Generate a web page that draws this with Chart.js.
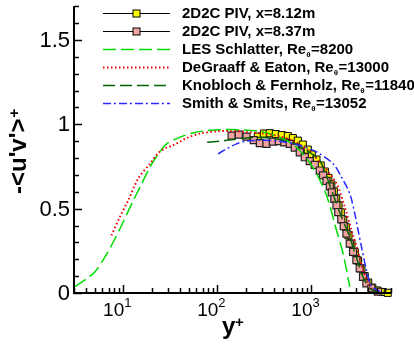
<!DOCTYPE html>
<html lang="en">
<head>
    <meta charset="UTF-8">
    <title>Reynolds shear stress profile</title>
    <script src="https://cdn.jsdelivr.net/npm/chart.js@4.4.0/dist/chart.umd.min.js"></script>
    <style>
        html, body { margin: 0; padding: 0; background: #fff; }
        #chartCanvas { display: block; }
    </style>
</head>
<body>
<canvas id="chartCanvas" width="414" height="350"></canvas>

<script>
    // ---- data ----
    // 2D2C PIV, x=8.12m (yellow squares)
    const piv812_x = [269, 312, 361, 418, 484, 561, 634, 716, 809, 914, 1007, 1130, 1256, 1387, 1510, 1625, 1727, 1835,
        1937, 2048, 2178, 2313, 2472, 2660, 2885, 3130, 3395, 3680, 4010, 4425, 5000, 5720, 6460];
    const piv812_y = [0.927, 0.945, 0.947, 0.942, 0.936, 0.930, 0.918, 0.903, 0.880, 0.850, 0.821, 0.791, 0.756, 0.720,
        0.682, 0.643, 0.602, 0.561, 0.519, 0.478, 0.434, 0.390, 0.342, 0.292, 0.242, 0.192, 0.145, 0.100, 0.062, 0.032,
        0.015, 0.006, 0.001];

    // 2D2C PIV, x=8.37m (pink squares)
    const piv837_x = [142, 169, 204, 244, 283, 333, 389, 450, 515, 589, 665, 752, 850, 960, 1085, 1226, 1330, 1445, 1567,
        1645, 1750, 1845, 1928, 2075, 2205, 2355, 2553, 2767, 3005, 3260, 3535, 3835, 4335, 5095];
    const piv837_y = [0.933, 0.939, 0.927, 0.906, 0.888, 0.884, 0.897, 0.900, 0.893, 0.884, 0.862, 0.834, 0.805, 0.782,
        0.759, 0.726, 0.697, 0.664, 0.632, 0.596, 0.558, 0.519, 0.480, 0.437, 0.396, 0.352, 0.293, 0.244, 0.195, 0.146,
        0.096, 0.057, 0.028, 0.008];

    // LES Schlatter, Re_theta=8200
    const les_x = [3.07, 4.1, 5.0, 6.4, 8.2, 10, 12.8, 15.1, 19.2, 23.6, 28.9, 40, 55, 77, 110, 160, 282, 461, 693, 1033,
        1445, 1845, 2168, 2553];
    const les_y = [0.037, 0.086, 0.125, 0.214, 0.323, 0.421, 0.549, 0.628, 0.746, 0.825, 0.884, 0.923, 0.949, 0.962,
        0.968, 0.968, 0.958, 0.923, 0.864, 0.746, 0.578, 0.372, 0.234, 0.037];

    // DeGraaff & Eaton, Re_theta=13000
    const dge_x = [7.5, 9.2, 11.3, 14.4, 19.2, 23.6, 28, 34, 41, 47, 65, 98, 140, 200, 300, 450, 650, 950, 1320, 1845,
        2260, 2660, 3130, 3680, 4330, 5000];
    const dge_y = [0.342, 0.45, 0.549, 0.677, 0.766, 0.83, 0.858, 0.876, 0.9, 0.918, 0.945, 0.958, 0.96, 0.955, 0.945,
        0.93, 0.9, 0.84, 0.756, 0.648, 0.509, 0.372, 0.244, 0.106, 0.028, 0.005];

    // Knobloch & Fernholz, Re_theta=11840
    const kf_x = [78, 106, 150, 220, 330, 500, 700, 950, 1225, 1430, 1630, 2085, 2550, 3000, 3500, 4000, 4500, 5200];
    const kf_y = [0.893, 0.9, 0.91, 0.92, 0.92, 0.905, 0.88, 0.835, 0.785, 0.7, 0.612, 0.45, 0.332, 0.21, 0.1, 0.04,
        0.015, 0.003];

    // Smith & Smits, Re_theta=13052
    const ss_x = [102, 125, 160, 200, 300, 450, 700, 1000, 1225, 1700, 2085, 2553, 2885, 3130, 3400, 3840, 4330, 5310];
    const ss_y = [0.825, 0.854, 0.884, 0.9, 0.905, 0.9, 0.88, 0.85, 0.825, 0.766, 0.687, 0.589, 0.47, 0.372, 0.273,
        0.136, 0.037, 0.008];

    // ---- axes ----
    const xMin = 3, xMax = 7000;
    const yMin = 0, yMax = 1.7;
    const yTickValues = [0, 0.5, 1, 1.5];
    const yTickLabels = ['0', '0.5', '1', '1.5'];
    const yMinorStep = 0.1;
    const xTickValues = [10, 100, 1000];
    const xTickExponents = ['1', '2', '3'];
    const xDecades = [1, 10, 100, 1000];

    // legend text split as [before subscript, subscript, after subscript]
    const legendText = [
        ['2D2C PIV, x=8.12m', '', ''],
        ['2D2C PIV, x=8.37m', '', ''],
        ['LES Schlatter, Re', 'θ', '=8200'],
        ['DeGraaff & Eaton, Re', 'θ', '=13000'],
        ['Knobloch & Fernholz, Re', 'θ', '=11840'],
        ['Smith & Smits, Re', 'θ', '=13052']
    ];

    function pts(xs, ys) {
        return xs.map((v, i) => ({x: v, y: ys[i]}));
    }

    // axis lines, inward ticks, labels, titles and the legend box
    const frame = {
        id: 'frame',
        afterDraw(chart) {
            const {ctx, chartArea: a, scales: {x, y}} = chart;
            ctx.save();
            ctx.strokeStyle = '#000';
            ctx.fillStyle = '#000';

            // ticks
            ctx.lineWidth = 1.5;
            ctx.beginPath();
            for (let v = yMin; v <= yMax + 1e-9; v += yMinorStep) {
                const r = Math.round(v * 10) / 10;
                const py = Math.round(y.getPixelForValue(r)) + 0.5;
                const len = yTickValues.includes(r) ? 8 : 5;
                ctx.moveTo(a.left, py);
                ctx.lineTo(a.left + len, py);
            }
            xDecades.forEach(d => {
                for (let m = 1; m <= 9; m++) {
                    const v = m * d;
                    if (v < xMin || v > xMax) continue;
                    const px = Math.round(x.getPixelForValue(v)) + 0.5;
                    const len = m === 1 ? 8 : 5;
                    ctx.moveTo(px, a.bottom);
                    ctx.lineTo(px, a.bottom - len);
                }
            });
            ctx.stroke();

            // axis lines
            ctx.lineWidth = 2;
            ctx.beginPath();
            ctx.moveTo(a.left, a.top);
            ctx.lineTo(a.left, a.bottom);
            ctx.lineTo(a.right, a.bottom);
            ctx.stroke();

            // y tick labels
            ctx.font = '22px "Liberation Sans", Arial, sans-serif';
            ctx.textAlign = 'right';
            ctx.textBaseline = 'middle';
            yTickValues.forEach((v, i) => {
                ctx.fillText(yTickLabels[i], a.left - 4, y.getPixelForValue(v) + 1);
            });

            // x tick labels 10^n
            ctx.textBaseline = 'alphabetic';
            xTickValues.forEach((v, i) => {
                const px = x.getPixelForValue(v);
                ctx.font = '19px "Liberation Sans", Arial, sans-serif';
                ctx.textAlign = 'right';
                ctx.fillText('10', px + 1, a.bottom + 23);
                ctx.font = '13px "Liberation Sans", Arial, sans-serif';
                ctx.textAlign = 'left';
                ctx.fillText(xTickExponents[i], px + 1, a.bottom + 14);
            });

            // x title
            ctx.font = 'bold 24px "Liberation Sans", Arial, sans-serif';
            ctx.textAlign = 'left';
            ctx.fillText('y', 222, 334);
            ctx.font = 'bold 15px "Liberation Sans", Arial, sans-serif';
            ctx.fillText('+', 235, 327);

            // y title (rotated)
            ctx.save();
            ctx.translate(26, 194);
            ctx.rotate(-Math.PI / 2);
            ctx.font = 'bold 24px "Liberation Sans", Arial, sans-serif';
            const t = "-<u'v'>";
            ctx.fillText(t, 0, 0);
            const tw = ctx.measureText(t).width;
            ctx.font = 'bold 15px "Liberation Sans", Arial, sans-serif';
            ctx.fillText('+', tw + 1, -7);
            ctx.restore();

            // legend
            const x0 = 103, x1 = 170, tx = 182, rowY = 13.5, rowH = 18;
            chart.data.datasets.forEach((ds, i) => {
                const ly = rowY + i * rowH;
                ctx.save();
                ctx.strokeStyle = ds.borderColor;
                ctx.lineWidth = ds.borderWidth;
                ctx.setLineDash(ds.borderDash || []);
                ctx.beginPath();
                ctx.moveTo(x0, ly);
                ctx.lineTo(x1, ly);
                ctx.stroke();
                ctx.restore();
                if (ds.pointRadius > 0) {
                    const s = 7;
                    ctx.fillStyle = ds.pointBackgroundColor;
                    ctx.fillRect((x0 + x1) / 2 - s / 2, ly - s / 2, s, s);
                    ctx.lineWidth = 1;
                    ctx.strokeStyle = '#000';
                    ctx.strokeRect((x0 + x1) / 2 - s / 2, ly - s / 2, s, s);
                    ctx.fillStyle = '#000';
                }
                const [pre, sub, post] = legendText[i];
                ctx.font = 'bold 15px "Liberation Sans", Arial, sans-serif';
                ctx.textAlign = 'left';
                ctx.textBaseline = 'middle';
                ctx.fillText(pre, tx, ly);
                let cx = tx + ctx.measureText(pre).width;
                if (sub) {
                    ctx.font = 'bold 8px "Liberation Sans", Arial, sans-serif';
                    ctx.fillText(sub, cx, ly + 5);
                    cx += ctx.measureText(sub).width + 0.5;
                    ctx.font = 'bold 15px "Liberation Sans", Arial, sans-serif';
                    ctx.fillText(post, cx, ly);
                }
            });
            ctx.restore();
        }
    };

    const ctx = document.getElementById('chartCanvas').getContext('2d');
    const myChart = new Chart(ctx, {
        type: 'line',
        data: {
            datasets: [
                {
                    label: '2D2C PIV, x=8.12m',
                    data: pts(piv812_x, piv812_y),
                    borderColor: '#000000',
                    borderWidth: 1,
                    pointStyle: 'rect',
                    pointRadius: 5,
                    pointBackgroundColor: '#FFFF00',
                    pointBorderColor: '#000000',
                    pointBorderWidth: 1,
                    order: 6
                },
                {
                    label: '2D2C PIV, x=8.37m',
                    data: pts(piv837_x, piv837_y),
                    borderColor: '#000000',
                    borderWidth: 1,
                    pointStyle: 'rect',
                    pointRadius: 5,
                    pointBackgroundColor: '#F4A3A3',
                    pointBorderColor: '#222222',
                    pointBorderWidth: 1.2,
                    order: 5
                },
                {
                    label: 'LES Schlatter',
                    data: pts(les_x, les_y),
                    borderColor: '#00DD00',
                    borderWidth: 1.5,
                    borderDash: [13, 5],
                    pointRadius: 0,
                    order: 4
                },
                {
                    label: 'DeGraaff & Eaton',
                    data: pts(dge_x, dge_y),
                    borderColor: '#EE0000',
                    borderWidth: 2,
                    borderDash: [1.5, 2.5],
                    pointRadius: 0,
                    order: 3
                },
                {
                    label: 'Knobloch & Fernholz',
                    data: pts(kf_x, kf_y),
                    borderColor: '#006400',
                    borderWidth: 1.5,
                    borderDash: [12, 5],
                    pointRadius: 0,
                    order: 2
                },
                {
                    label: 'Smith & Smits',
                    data: pts(ss_x, ss_y),
                    borderColor: '#2828FF',
                    borderWidth: 1.5,
                    borderDash: [8, 3, 2, 3],
                    pointRadius: 0,
                    order: 1
                }
            ]
        },
        options: {
            responsive: false,
            animation: false,
            clip: false,
            layout: {padding: {left: 74, top: 5, right: 23, bottom: 57}},
            plugins: {legend: {display: false}, tooltip: {enabled: false}},
            elements: {line: {tension: 0.3, fill: false}},
            scales: {
                x: {type: 'logarithmic', min: xMin, max: xMax, display: false},
                y: {type: 'linear', min: yMin, max: yMax, display: false}
            }
        },
        plugins: [frame]
    });
</script>
</body>
</html>
